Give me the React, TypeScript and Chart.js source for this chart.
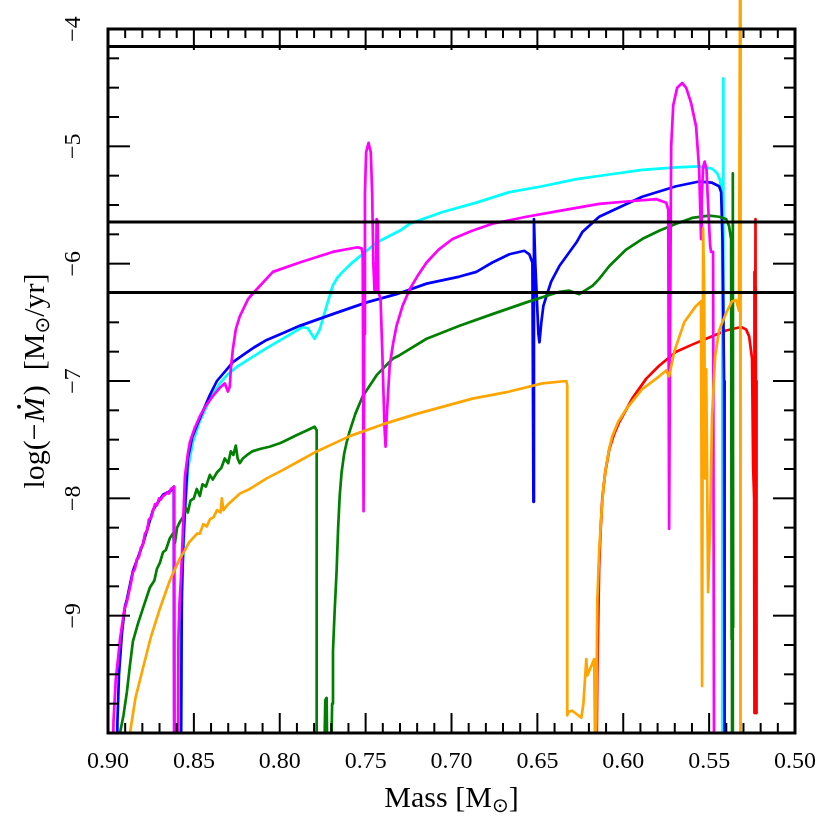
import React, { useEffect, useRef } from "react";
import { Chart, registerables } from "chart.js";
Chart.register(...registerables);

// ---------- data ----------
const xMajorTicks = [0.9, 0.85, 0.8, 0.75, 0.7, 0.65, 0.6, 0.55, 0.5];
const xTickLabels = ["0.90", "0.85", "0.80", "0.75", "0.70", "0.65", "0.60", "0.55", "0.50"];
const yMajorTicks = [-9, -8, -7, -6, -5, -4];
const yTickLabels = ["−9", "−8", "−7", "−6", "−5", "−4"];
const refLevels = [-4.15, -5.645, -6.245];

const magenta = [
  [0.8974, -10.5], [0.8968, -9.9], [0.8955, -9.55], [0.8942, -9.37], [0.893, -9.2], [0.8918, -9.08], [0.8905, -8.95], [0.889, -8.88], [0.8878, -8.8], [0.8866, -8.72], [0.8855, -8.63], [0.8843, -8.6], [0.8832, -8.52], [0.882, -8.5], [0.8808, -8.42], [0.8797, -8.4], [0.8785, -8.3], [0.8773, -8.28], [0.8762, -8.18], [0.875, -8.17], [0.8738, -8.11], [0.8726, -8.05], [0.8715, -8.06], [0.8703, -8.0], [0.8692, -8.01], [0.868, -7.98], [0.8668, -7.97], [0.8656, -7.95], [0.8645, -7.96], [0.8634, -7.92], [0.8622, -7.91], [0.8616, -7.9], [0.8614, -10.5],
  [0.8593, -10.5], [0.859, -9.2], [0.8584, -8.9], [0.8576, -8.7], [0.857, -8.51], [0.8561, -8.15], [0.8552, -7.81], [0.8535, -7.62], [0.8523, -7.52], [0.8495, -7.4], [0.8465, -7.3], [0.843, -7.21], [0.839, -7.13], [0.835, -7.06], [0.832, -7.02], [0.8302, -7.09], [0.8291, -7.05], [0.8285, -6.9], [0.8273, -6.73], [0.8256, -6.56], [0.8233, -6.45], [0.8184, -6.3], [0.8135, -6.22], [0.804, -6.07], [0.7884, -5.99], [0.7692, -5.9], [0.7547, -5.86], [0.7523, -5.87], [0.7517, -5.92],
  [0.7512, -8.11], [0.7508, -6.6], [0.7504, -5.4], [0.7497, -5.05], [0.7483, -4.97], [0.747, -5.05], [0.7462, -5.4], [0.7455, -6.0], [0.7448, -6.24], [0.744, -6.24], [0.7436, -5.62], [0.743, -5.64], [0.7426, -6.24], [0.7413, -6.3], [0.7402, -6.8], [0.739, -7.4], [0.7384, -7.56], [0.7375, -7.25], [0.736, -6.87], [0.734, -6.68], [0.732, -6.53], [0.7285, -6.36], [0.7244, -6.22], [0.72, -6.11], [0.7145, -5.99], [0.7075, -5.88], [0.6994, -5.79], [0.688, -5.72], [0.6762, -5.66], [0.6564, -5.6], [0.6372, -5.55], [0.614, -5.49], [0.5983, -5.47], [0.5808, -5.45], [0.575, -5.48], [0.5738, -5.54], [0.5733, -8.26],
  [0.5727, -6.5], [0.5721, -5.0], [0.5709, -4.65], [0.5686, -4.5], [0.5657, -4.46], [0.5634, -4.5], [0.5605, -4.63], [0.5576, -4.83], [0.5558, -5.2], [0.5547, -5.79], [0.5543, -5.45], [0.5535, -5.18], [0.5526, -5.13], [0.5515, -5.2], [0.5506, -5.5], [0.5494, -5.85], [0.5488, -5.9], [0.5477, -5.9], [0.5471, -10.5],
];

const cyan = [
  [0.8578, -10.5], [0.8572, -9.0], [0.8565, -8.6], [0.8552, -8.15], [0.8535, -7.75], [0.8506, -7.52], [0.8465, -7.34], [0.8407, -7.16], [0.8349, -7.02], [0.83, -6.94], [0.825, -6.88], [0.8174, -6.81], [0.8076, -6.72], [0.7959, -6.62], [0.7866, -6.54], [0.7837, -6.55], [0.7797, -6.64], [0.7767, -6.56], [0.7745, -6.45], [0.7727, -6.36], [0.7692, -6.19], [0.7665, -6.12], [0.7634, -6.07], [0.7585, -6.0], [0.7535, -5.94], [0.7436, -5.82], [0.7302, -5.72], [0.7244, -5.66], [0.7052, -5.56], [0.6855, -5.48], [0.6663, -5.39], [0.6471, -5.34], [0.6273, -5.28], [0.6081, -5.24], [0.589, -5.2], [0.5692, -5.18], [0.5558, -5.17], [0.5483, -5.19], [0.5453, -5.23], [0.5436, -5.29], [0.543, -5.36], [0.5424, -5.5], [0.5422, -10.5], [0.5419, -10.5], [0.5418, -4.42], [0.5416, -10.5],
];

const blue = [
  [0.895, -10.5], [0.8945, -9.9], [0.8936, -9.5], [0.8919, -9.15], [0.8901, -8.92], [0.889, -8.86], [0.8855, -8.62], [0.8797, -8.39], [0.8738, -8.1], [0.868, -7.97], [0.8628, -7.93], [0.8616, -7.9], [0.8614, -10.5],
  [0.8576, -10.5], [0.857, -8.8], [0.8561, -8.35], [0.8552, -8.09], [0.8535, -7.66], [0.851, -7.48], [0.8483, -7.38], [0.8445, -7.25], [0.8407, -7.12], [0.8366, -7.0], [0.8308, -6.9], [0.8273, -6.84], [0.8215, -6.78], [0.8145, -6.71], [0.8076, -6.65], [0.798, -6.59], [0.7884, -6.53], [0.7692, -6.43], [0.7494, -6.33], [0.732, -6.26], [0.7145, -6.17], [0.6953, -6.11], [0.6855, -6.07], [0.6762, -5.99], [0.6663, -5.92], [0.6576, -5.89], [0.6547, -5.92], [0.6529, -5.99], [0.6523, -8.03], [0.652, -5.62], [0.6512, -6.0], [0.6494, -6.6], [0.6488, -6.67], [0.6477, -6.5], [0.6465, -6.36], [0.6448, -6.28], [0.6419, -6.15], [0.6372, -6.02], [0.6273, -5.82], [0.6238, -5.73], [0.614, -5.6], [0.6081, -5.56], [0.589, -5.43], [0.5692, -5.34], [0.5558, -5.3], [0.5483, -5.31], [0.5442, -5.34], [0.543, -5.39], [0.5422, -5.8], [0.5413, -7.0], [0.541, -10.5],
];

const green = [
  [0.8936, -10.5], [0.893, -10.0], [0.891, -9.85], [0.889, -9.65], [0.8872, -9.42], [0.8855, -9.22], [0.8826, -9.07], [0.8797, -8.94], [0.8756, -8.76], [0.873, -8.7], [0.8715, -8.6], [0.8698, -8.55], [0.868, -8.46], [0.8663, -8.44], [0.864, -8.34], [0.8622, -8.3], [0.861, -8.38], [0.8598, -8.25], [0.8581, -8.2], [0.8564, -8.16], [0.8547, -8.08], [0.8535, -8.12], [0.852, -8.02], [0.85, -8.0], [0.8483, -7.92], [0.8465, -7.98], [0.845, -7.88], [0.843, -7.9], [0.8407, -7.8], [0.839, -7.84], [0.8366, -7.78], [0.834, -7.74], [0.832, -7.66], [0.83, -7.7], [0.8285, -7.6], [0.827, -7.63], [0.8256, -7.55], [0.8245, -7.66], [0.8233, -7.7], [0.8215, -7.66], [0.819, -7.63], [0.816, -7.6], [0.8116, -7.58], [0.806, -7.56], [0.8, -7.53], [0.7983, -7.52], [0.79, -7.46], [0.784, -7.42], [0.7797, -7.39], [0.7785, -7.42], [0.7785, -10.5],
  [0.7744, -10.5], [0.7735, -9.72], [0.7727, -9.7], [0.7721, -10.5], [0.7703, -10.5], [0.7698, -10.0], [0.7695, -9.75], [0.769, -9.3], [0.768, -8.95], [0.7669, -8.62], [0.766, -8.25], [0.7651, -7.98], [0.764, -7.78], [0.7625, -7.62], [0.761, -7.52], [0.7593, -7.43], [0.756, -7.28], [0.7517, -7.13], [0.7436, -6.95], [0.7343, -6.81], [0.7302, -6.78], [0.7145, -6.64], [0.6953, -6.53], [0.6762, -6.43], [0.6564, -6.33], [0.6372, -6.24], [0.6314, -6.23], [0.6256, -6.26], [0.618, -6.19], [0.614, -6.13], [0.6081, -6.02], [0.5983, -5.88], [0.589, -5.79], [0.5791, -5.72], [0.5692, -5.66], [0.5599, -5.61], [0.55, -5.59], [0.5442, -5.6], [0.5401, -5.62], [0.5384, -5.68], [0.5372, -5.79], [0.5368, -9.2], [0.537, -6.2], [0.5366, -10.5], [0.5362, -5.23], [0.536, -9.1], [0.5364, -6.5], [0.5362, -10.5],
];

const orange = [
  [0.8878, -10.5], [0.8872, -10.0], [0.884, -9.7], [0.8797, -9.45], [0.875, -9.18], [0.8698, -8.94], [0.864, -8.7], [0.8581, -8.51], [0.8555, -8.45], [0.853, -8.38], [0.8506, -8.34], [0.848, -8.3], [0.8465, -8.3], [0.8445, -8.22], [0.8425, -8.24], [0.8407, -8.18], [0.8385, -8.16], [0.8365, -8.1], [0.8345, -8.12], [0.8337, -8.0], [0.8328, -8.1], [0.83, -8.05], [0.8233, -7.96], [0.8174, -7.92], [0.8076, -7.83], [0.7983, -7.76], [0.7884, -7.68], [0.7785, -7.6], [0.7593, -7.47], [0.7401, -7.37], [0.7203, -7.28], [0.6878, -7.15], [0.6663, -7.09], [0.6471, -7.02], [0.6331, -7.0], [0.6326, -7.04], [0.6326, -9.85], [0.632, -9.82], [0.6297, -9.81], [0.6244, -9.87], [0.6232, -9.75], [0.6215, -9.37], [0.6209, -9.51], [0.6169, -9.37], [0.6163, -10.3], [0.6157, -9.9], [0.6151, -8.86], [0.614, -8.45], [0.6128, -8.15], [0.6115, -7.9], [0.6099, -7.72], [0.6082, -7.58], [0.6064, -7.47], [0.603, -7.35], [0.5983, -7.24], [0.589, -7.07], [0.5791, -6.96], [0.575, -6.91], [0.5733, -6.96], [0.5703, -6.75], [0.5645, -6.5], [0.5576, -6.36], [0.5547, -6.32], [0.5541, -9.6], [0.5535, -5.7], [0.5529, -6.2], [0.5523, -7.83], [0.5517, -6.9], [0.5506, -8.8], [0.5494, -8.2], [0.5483, -7.3], [0.5465, -6.79], [0.5442, -6.57], [0.5401, -6.42], [0.5366, -6.32], [0.5343, -6.31], [0.5326, -6.4], [0.532, -3.6], [0.5317, -10.5],
];

const red = [
  [0.6157, -10.5], [0.6151, -9.5], [0.6145, -9.0], [0.614, -8.57], [0.6131, -8.25], [0.6122, -8.0], [0.6105, -7.78], [0.6081, -7.58], [0.6055, -7.46], [0.6023, -7.35], [0.5985, -7.25], [0.5948, -7.15], [0.5866, -6.98], [0.5791, -6.87], [0.5692, -6.75], [0.5599, -6.69], [0.55, -6.63], [0.5401, -6.57], [0.5314, -6.54], [0.5285, -6.56], [0.5267, -6.62], [0.525, -6.81], [0.5244, -7.72], [0.5238, -8.0], [0.5236, -9.83], [0.5238, -6.07], [0.5234, -9.8], [0.523, -5.62], [0.5227, -9.83], [0.5229, -6.2], [0.5224, -9.83], [0.5226, -7.0], [0.5222, -9.8],
];

// ---------- helpers ----------
const SERIF = '"Liberation Serif", "DejaVu Serif", serif';

function mk(data: number[][], color: string, order: number, width = 2.7, clip: any = 0) {
  return {
    data: data.map(([x, y]) => ({ x, y })),
    borderColor: color,
    backgroundColor: color,
    borderWidth: width,
    pointRadius: 0,
    pointHoverRadius: 0,
    showLine: true,
    tension: 0,
    fill: false,
    borderJoinStyle: "round",
    order,
    clip,
  };
}

function drawRich(ctx: CanvasRenderingContext2D, segs: any[], x: number, y: number) {
  let total = 0;
  for (const s of segs) {
    ctx.font = s.font;
    total += ctx.measureText(s.t).width + (s.sp || 0);
  }
  let cx = x - total / 2;
  const pos: number[][] = [];
  for (const s of segs) {
    ctx.font = s.font;
    const w = ctx.measureText(s.t).width;
    ctx.fillText(s.t, cx, y + (s.dy || 0));
    pos.push([cx, w]);
    cx += w + (s.sp || 0);
  }
  return pos;
}

const framePlugin = {
  id: "frameTicks",
  afterDraw(chart: any) {
    const { ctx, chartArea: a, scales } = chart;
    const xs = scales.x;
    const ys = scales.y;
    ctx.save();
    ctx.strokeStyle = "#000";
    ctx.fillStyle = "#000";
    ctx.lineWidth = 2;
    ctx.lineCap = "butt";
    const seg = (x1: number, y1: number, x2: number, y2: number) => {
      ctx.beginPath();
      ctx.moveTo(x1, y1);
      ctx.lineTo(x2, y2);
      ctx.stroke();
    };
    // x ticks every 0.01, major every 0.05
    for (let i = 50; i <= 90; i++) {
      const px = xs.getPixelForValue(i / 100);
      const major = i % 5 === 0;
      seg(px, a.bottom, px, a.bottom - (major ? 20 : 10));
      seg(px, a.top, px, a.top + (major ? 21 : 9));
    }
    // y ticks every 0.25, major every 1
    for (let i = -40; i <= -16; i++) {
      const py = ys.getPixelForValue(i / 4);
      const major = i % 4 === 0;
      seg(a.left, py, a.left + (major ? 22 : 11), py);
      seg(a.right, py, a.right - (major ? 22 : 11), py);
    }
    // frame
    ctx.lineWidth = 3;
    ctx.strokeRect(a.left, a.top, a.right - a.left, a.bottom - a.top);

    // x tick labels
    ctx.font = "24px " + SERIF;
    ctx.textAlign = "center";
    ctx.textBaseline = "alphabetic";
    xMajorTicks.forEach((v, k) => {
      ctx.fillText(xTickLabels[k], xs.getPixelForValue(v), a.bottom + 35);
    });
    // y tick labels (rotated)
    yMajorTicks.forEach((v, k) => {
      const py = ys.getPixelForValue(v);
      ctx.save();
      ctx.translate(a.left - 28, py);
      ctx.rotate(-Math.PI / 2);
      ctx.textAlign = "center";
      ctx.fillText(yTickLabels[k], 0, 0);
      ctx.restore();
    });

    // x title
    ctx.textAlign = "left";
    const big = "30px " + SERIF;
    const sub = '20px "DejaVu Sans", ' + SERIF;
    const cxm = (a.left + a.right) / 2;
    drawRich(ctx, [
      { t: "Mass [M", font: big },
      { t: "⊙", font: sub, dy: 5 },
      { t: "]", font: big },
    ], cxm, a.bottom + 74);

    // y title rotated
    ctx.save();
    ctx.translate(44, (a.top + a.bottom) / 2);
    ctx.rotate(-Math.PI / 2);
    const pos = drawRich(ctx, [
      { t: "log(", font: big },
      { t: "−", font: big, sp: 1 },
      { t: "M", font: "italic " + big, sp: 2 },
      { t: ")  [M", font: big },
      { t: "⊙", font: sub, dy: 5 },
      { t: "/yr]", font: big },
    ], 0, 0);
    const [mx, mw] = pos[2];
    ctx.beginPath();
    ctx.arc(mx + mw * 0.62, -25, 2, 0, Math.PI * 2);
    ctx.fill();
    ctx.restore();

    ctx.restore();
  },
};

export default function App() {
  const ref = useRef<HTMLCanvasElement>(null);
  useEffect(() => {
    if (!ref.current) return;
    const datasets: any[] = [
      ...refLevels.map((v) => mk([[0.9, v], [0.5, v]], "#000000", 0, 3)),
      mk(orange, "#ffa500", 1, 2.7, { left: 0, right: 0, top: false, bottom: 0 }),
      mk(magenta, "#ff00ff", 2),
      mk(green, "#008000", 3),
      mk(blue, "#0000ff", 4),
      mk(cyan, "#00ffff", 5),
      mk(red, "#ff0000", 6),
    ];
    const chart = new Chart(ref.current, {
      type: "scatter",
      data: { datasets },
      options: {
        responsive: false,
        animation: false,
        events: [],
        layout: { padding: { left: 108, right: 36, top: 29, bottom: 98 } },
        plugins: { legend: { display: false }, tooltip: { enabled: false } },
        scales: {
          x: { type: "linear", min: 0.5, max: 0.9, reverse: true, display: false },
          y: { type: "linear", min: -10, max: -4, display: false },
        },
      },
      plugins: [framePlugin],
    } as any);
    return () => chart.destroy();
  }, []);
  return (
    <div style={{ position: "fixed", left: 0, top: 0, width: 831, height: 831, background: "#fff" }}>
      <canvas ref={ref} width={831} height={831} style={{ display: "block" }} />
    </div>
  );
}
